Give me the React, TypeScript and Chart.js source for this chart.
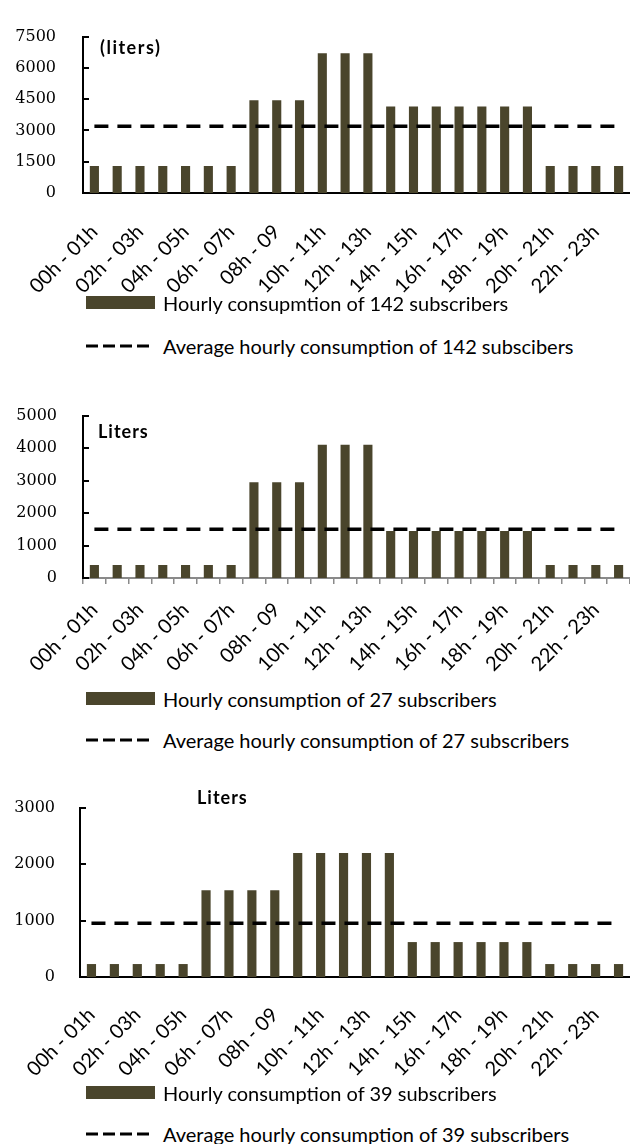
import React, { useEffect, useRef } from "react";
import { Chart, registerables } from "chart.js";

Chart.register(...registerables);

// ---------- DATA ----------
const hourLabels = [
  "00h - 01h", "01h - 02h", "02h - 03h", "03h - 04h", "04h - 05h", "05h - 06h",
  "06h - 07h", "07h - 08h", "08h - 09", "09h - 10h", "10h - 11h", "11h - 12h",
  "12h - 13h", "13h - 14h", "14h - 15h", "15h - 16h", "16h - 17h", "17h - 18h",
  "18h - 19h", "19h - 20h", "20h - 21h", "21h - 22h", "22h - 23h", "23h - 24h",
];

const hourly142 = [
  1300, 1300, 1300, 1300, 1300, 1300, 1300, 4450, 4450, 4450, 6700, 6700,
  6700, 4150, 4150, 4150, 4150, 4150, 4150, 4150, 1300, 1300, 1300, 1300,
];
const average142 = [
  3200, 3200, 3200, 3200, 3200, 3200, 3200, 3200, 3200, 3200, 3200, 3200,
  3200, 3200, 3200, 3200, 3200, 3200, 3200, 3200, 3200, 3200, 3200, 3200,
];

const hourly27 = [
  400, 400, 400, 400, 400, 400, 400, 2950, 2950, 2950, 4100, 4100,
  4100, 1450, 1450, 1450, 1450, 1450, 1450, 1450, 400, 400, 400, 400,
];
const average27 = [
  1500, 1500, 1500, 1500, 1500, 1500, 1500, 1500, 1500, 1500, 1500, 1500,
  1500, 1500, 1500, 1500, 1500, 1500, 1500, 1500, 1500, 1500, 1500, 1500,
];

const hourly39 = [
  230, 230, 230, 230, 230, 1540, 1540, 1540, 1540, 2200, 2200, 2200,
  2200, 2200, 620, 620, 620, 620, 620, 620, 230, 230, 230, 230,
];
const average39 = [
  955, 955, 955, 955, 955, 955, 955, 955, 955, 955, 955, 955,
  955, 955, 955, 955, 955, 955, 955, 955, 955, 955, 955, 955,
];

const yMax = [7500, 5000, 3000];
const yStep = [1500, 1000, 1000];
const unitTitles = ["(liters)", "Liters", "Liters"];
const barLegends = [
  "Hourly consupmtion of 142 subscribers",
  "Hourly consumption of 27 subscribers",
  "Hourly consumption of 39 subscribers",
];
const lineLegends = [
  "Average hourly consumption of 142 subscibers",
  "Average hourly consumption of 27 subscribers",
  "Average hourly consumption of 39 subscribers",
];

// ---------- STYLE ----------
const BAR_COLOR = "#4a452c";
const SANS = "Lato";

const decorPlugin = {
  id: "decor",
  afterDraw(chart: any, _args: any, opts: any) {
    const { ctx, chartArea, scales } = chart;
    const y = scales.y;
    ctx.save();
    ctx.strokeStyle = "#000";
    ctx.lineWidth = 2;
    y.ticks.forEach((t: any) => {
      const py = Math.round(y.getPixelForValue(t.value));
      ctx.beginPath();
      ctx.moveTo(chartArea.left, py);
      ctx.lineTo(chartArea.left + 6, py);
      ctx.stroke();
    });
    ctx.font = `bold 18px ${SANS}`;
    (ctx as any).letterSpacing = opts.spacing;
    ctx.fillStyle = "#000";
    ctx.textBaseline = "middle";
    ctx.textAlign = "left";
    ctx.fillText(opts.text, chartArea.left + opts.dx, chartArea.top + opts.dy);
    ctx.restore();
  },
};

type PanelProps = {
  top: number;
  height: number;
  padTop: number;
  left: number;
  xAxisHeight: number;
  bars: number[];
  avg: number[];
  max: number;
  step: number;
  title: string;
  titleDx: number;
  titleDy: number;
  titleSpacing: string;
  grayAxis: boolean;
  tickPad: number;
  yPad: number;
  barLabel: string;
  lineLabel: string;
};

function Panel(p: PanelProps) {
  const ref = useRef<HTMLCanvasElement | null>(null);
  useEffect(() => {
    if (!ref.current) return;
    const chart = new Chart(ref.current, {
      type: "bar",
      data: {
        labels: hourLabels,
        datasets: [
          {
            type: "line",
            label: p.lineLabel,
            data: p.avg,
            borderColor: "#000",
            borderWidth: 3.5,
            borderDash: [14, 9],
            pointRadius: 0,
            fill: false,
            order: 0,
          } as any,
          {
            type: "bar",
            label: p.barLabel,
            data: p.bars,
            backgroundColor: BAR_COLOR,
            borderWidth: 0,
            barPercentage: 0.4,
            categoryPercentage: 1,
            order: 1,
          },
        ],
      },
      options: {
        responsive: false,
        maintainAspectRatio: false,
        animation: false,
        layout: { padding: { top: p.padTop, left: 0, right: 0, bottom: 0 } },
        plugins: {
          legend: { display: false },
          tooltip: { enabled: false },
          decor: { text: p.title, dx: p.titleDx, dy: p.titleDy, spacing: p.titleSpacing },
        } as any,
        scales: {
          x: {
            ticks: {
              autoSkip: false,
              maxRotation: 45,
              minRotation: 45,
              padding: p.tickPad,
              color: "#000",
              font: { family: SANS, size: 20 },
              callback: (_v: any, i: number) => (i % 2 === 0 ? hourLabels[i] : ""),
            },
            grid: p.grayAxis
              ? {
                  display: true,
                  offset: true,
                  drawOnChartArea: false,
                  drawTicks: true,
                  tickLength: 6,
                  color: "#8a8a8a",
                  lineWidth: 1.5,
                }
              : { display: false, drawTicks: false },
            border: { display: true, color: p.grayAxis ? "#8a8a8a" : "#000", width: 2 },
            afterFit: (s: any) => {
              s.height = p.xAxisHeight;
              s.paddingLeft = 0;
              s.paddingRight = 0;
            },
          },
          y: {
            min: 0,
            max: p.max,
            ticks: {
              stepSize: p.step,
              padding: p.yPad,
              color: "#000",
              font: { family: "DejaVu Serif", size: 16 },
              callback: (v: any) => String(v),
            },
            grid: { display: false, drawTicks: false },
            border: { display: true, color: "#000", width: 2 },
            afterFit: (s: any) => {
              s.width = p.left;
            },
          },
        },
      },
      plugins: [decorPlugin],
    });
    return () => chart.destroy();
  }, []);
  return (
    <canvas
      ref={ref}
      width={630}
      height={p.height}
      style={{ position: "absolute", left: 0, top: p.top, width: 630, height: p.height }}
    />
  );
}

function Legend({ boxY, lineY, barText, lineText }: { boxY: number; lineY: number; barText: string; lineText: string }) {
  const textStyle: React.CSSProperties = {
    position: "absolute",
    left: 163,
    fontFamily: SANS,
    fontSize: 20,
    lineHeight: "24px",
    color: "#000",
    whiteSpace: "nowrap",
  };
  return (
    <>
      <div style={{ position: "absolute", left: 86, top: boxY, width: 69, height: 13, background: BAR_COLOR }} />
      <div style={{ ...textStyle, top: boxY + 6.5 - 12 }}>{barText}</div>
      <svg style={{ position: "absolute", left: 86, top: lineY - 3 }} width={66} height={6}>
        <line x1={0} y1={3} x2={66} y2={3} stroke="#000" strokeWidth={3} strokeDasharray="12 5" />
      </svg>
      <div style={{ ...textStyle, top: lineY - 12 }}>{lineText}</div>
    </>
  );
}

export default function App() {
  return (
    <div style={{ position: "absolute", left: 0, top: 0, width: 630, height: 1144, background: "#fff", overflow: "hidden" }}>
      <Panel
        top={0} height={320} padTop={20} left={83} xAxisHeight={127}
        bars={hourly142} avg={average142} max={yMax[0]} step={yStep[0]}
        title={unitTitles[0]} titleDx={17} titleDy={12} titleSpacing="1.5px"
        grayAxis={false} tickPad={27} yPad={27}
        barLabel={barLegends[0]} lineLabel={lineLegends[0]}
      />
      <Legend boxY={296} lineY={346} barText={barLegends[0]} lineText={lineLegends[0]} />
      <Panel
        top={380} height={300} padTop={22} left={83} xAxisHeight={102}
        bars={hourly27} avg={average27} max={yMax[1]} step={yStep[1]}
        title={unitTitles[1]} titleDx={15} titleDy={17} titleSpacing="1px"
        grayAxis={true} tickPad={14} yPad={26}
        barLabel={barLegends[1]} lineLabel={lineLegends[1]}
      />
      <Legend boxY={692} lineY={740} barText={barLegends[1]} lineText={lineLegends[1]} />
      <Panel
        top={770} height={330} padTop={38} left={80} xAxisHeight={123}
        bars={hourly39} avg={average39} max={yMax[2]} step={yStep[2]}
        title={unitTitles[2]} titleDx={117} titleDy={-10} titleSpacing="1px"
        grayAxis={false} tickPad={26} yPad={25}
        barLabel={barLegends[2]} lineLabel={lineLegends[2]}
      />
      <Legend boxY={1086} lineY={1134} barText={barLegends[2]} lineText={lineLegends[2]} />
    </div>
  );
}
